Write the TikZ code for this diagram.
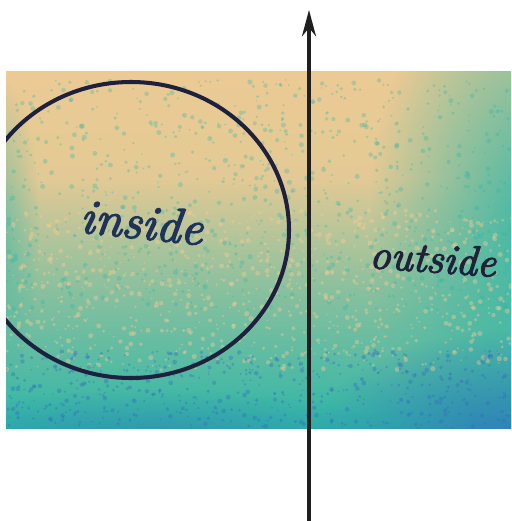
\documentclass[tikz,border=0pt]{standalone}
\usepackage{fontspec}
\usetikzlibrary{fadings, arrows.meta}

\newfontfamily\wordfont{Latin Modern Roman}[FakeBold=3, ItalicFeatures={FakeBold=3}]

\definecolor{peachbg}{RGB}{252,204,146}
\definecolor{tealbg}{RGB}{40,182,168}
\definecolor{bluebg}{RGB}{50,112,188}
\definecolor{inkline}{RGB}{30,32,62}
\definecolor{inkword}{RGB}{30,50,90}
\definecolor{inkout}{RGB}{32,34,58}

\pgfdeclareverticalshading{bgfall}{100bp}{color(0bp)=(bluebg); color(7bp)=(tealbg!75!bluebg); color(24bp)=(tealbg); color(44bp)=(peachbg!45!tealbg); color(60bp)=(peachbg!88!tealbg); color(100bp)=(peachbg)}
\tikzfading[name=softglow, inner color=transparent!0, outer color=transparent!100]

\begin{document}
\begin{tikzpicture}[x=0.02cm, y=-0.02cm,
    ring/.style={draw=inkline, line width=2.3pt},
    wordtag/.style={font=\wordfont\fontsize{28}{30}\selectfont\itshape, text=inkword, inner sep=0pt},
    axisarrow/.style={-{Stealth[length=15pt, width=8pt]}, line width=2pt, draw=black!88}]
    \useasboundingbox (0,0) rectangle (511,521);

    \begin{scope}
        \clip (6,71) rectangle (511,428);
        \shade[shading=bgfall] (6,71) rectangle (511,428);
        \fill[tealbg, opacity=0.9, path fading=softglow] (540,220) ellipse (170 and 280);
        \fill[tealbg, opacity=0.5, path fading=softglow] (0,230) ellipse (40 and 150);
        \fill[bluebg, opacity=0.8, path fading=softglow] (511,440) ellipse (200 and 110);
        \fill[bluebg, opacity=0.5, path fading=softglow] (150,440) ellipse (260 and 50);
        \pgfmathsetseed{11}
        \foreach \k in {1,...,800} {
            \pgfmathsetmacro\px{6+505*rnd}
            \pgfmathsetmacro\py{80+230*rnd}
            \pgfmathsetmacro\pr{0.8+1.8*rnd}
            \fill[tealbg, opacity=0.3] (\px,\py) circle (\pr);
        }
        \foreach \k in {1,...,900} {
            \pgfmathsetmacro\px{6+505*rnd}
            \pgfmathsetmacro\py{210+160*rnd}
            \pgfmathsetmacro\pr{0.8+1.8*rnd}
            \fill[peachbg, opacity=0.4] (\px,\py) circle (\pr);
        }
        \foreach \k in {1,...,500} {
            \pgfmathsetmacro\px{6+505*rnd}
            \pgfmathsetmacro\py{350+78*rnd}
            \pgfmathsetmacro\pr{0.8+1.6*rnd}
            \fill[bluebg, opacity=0.4] (\px,\py) circle (\pr);
        }
        \draw[ring] (131,230) ellipse (158 and 148);
    \end{scope}

    \node[wordtag, rotate=-6] (inside) at (142,222) {inside};
    \node[wordtag, rotate=-4, text=inkout, font=\wordfont\fontsize{24}{26}\selectfont\itshape] (outside) at (433,258) {outside};

    \coordinate (axisbot) at (309,521);
    \coordinate (axistop) at (309,10);
    \draw[axisarrow] (axisbot) -- (axistop);
\end{tikzpicture}
\end{document}
